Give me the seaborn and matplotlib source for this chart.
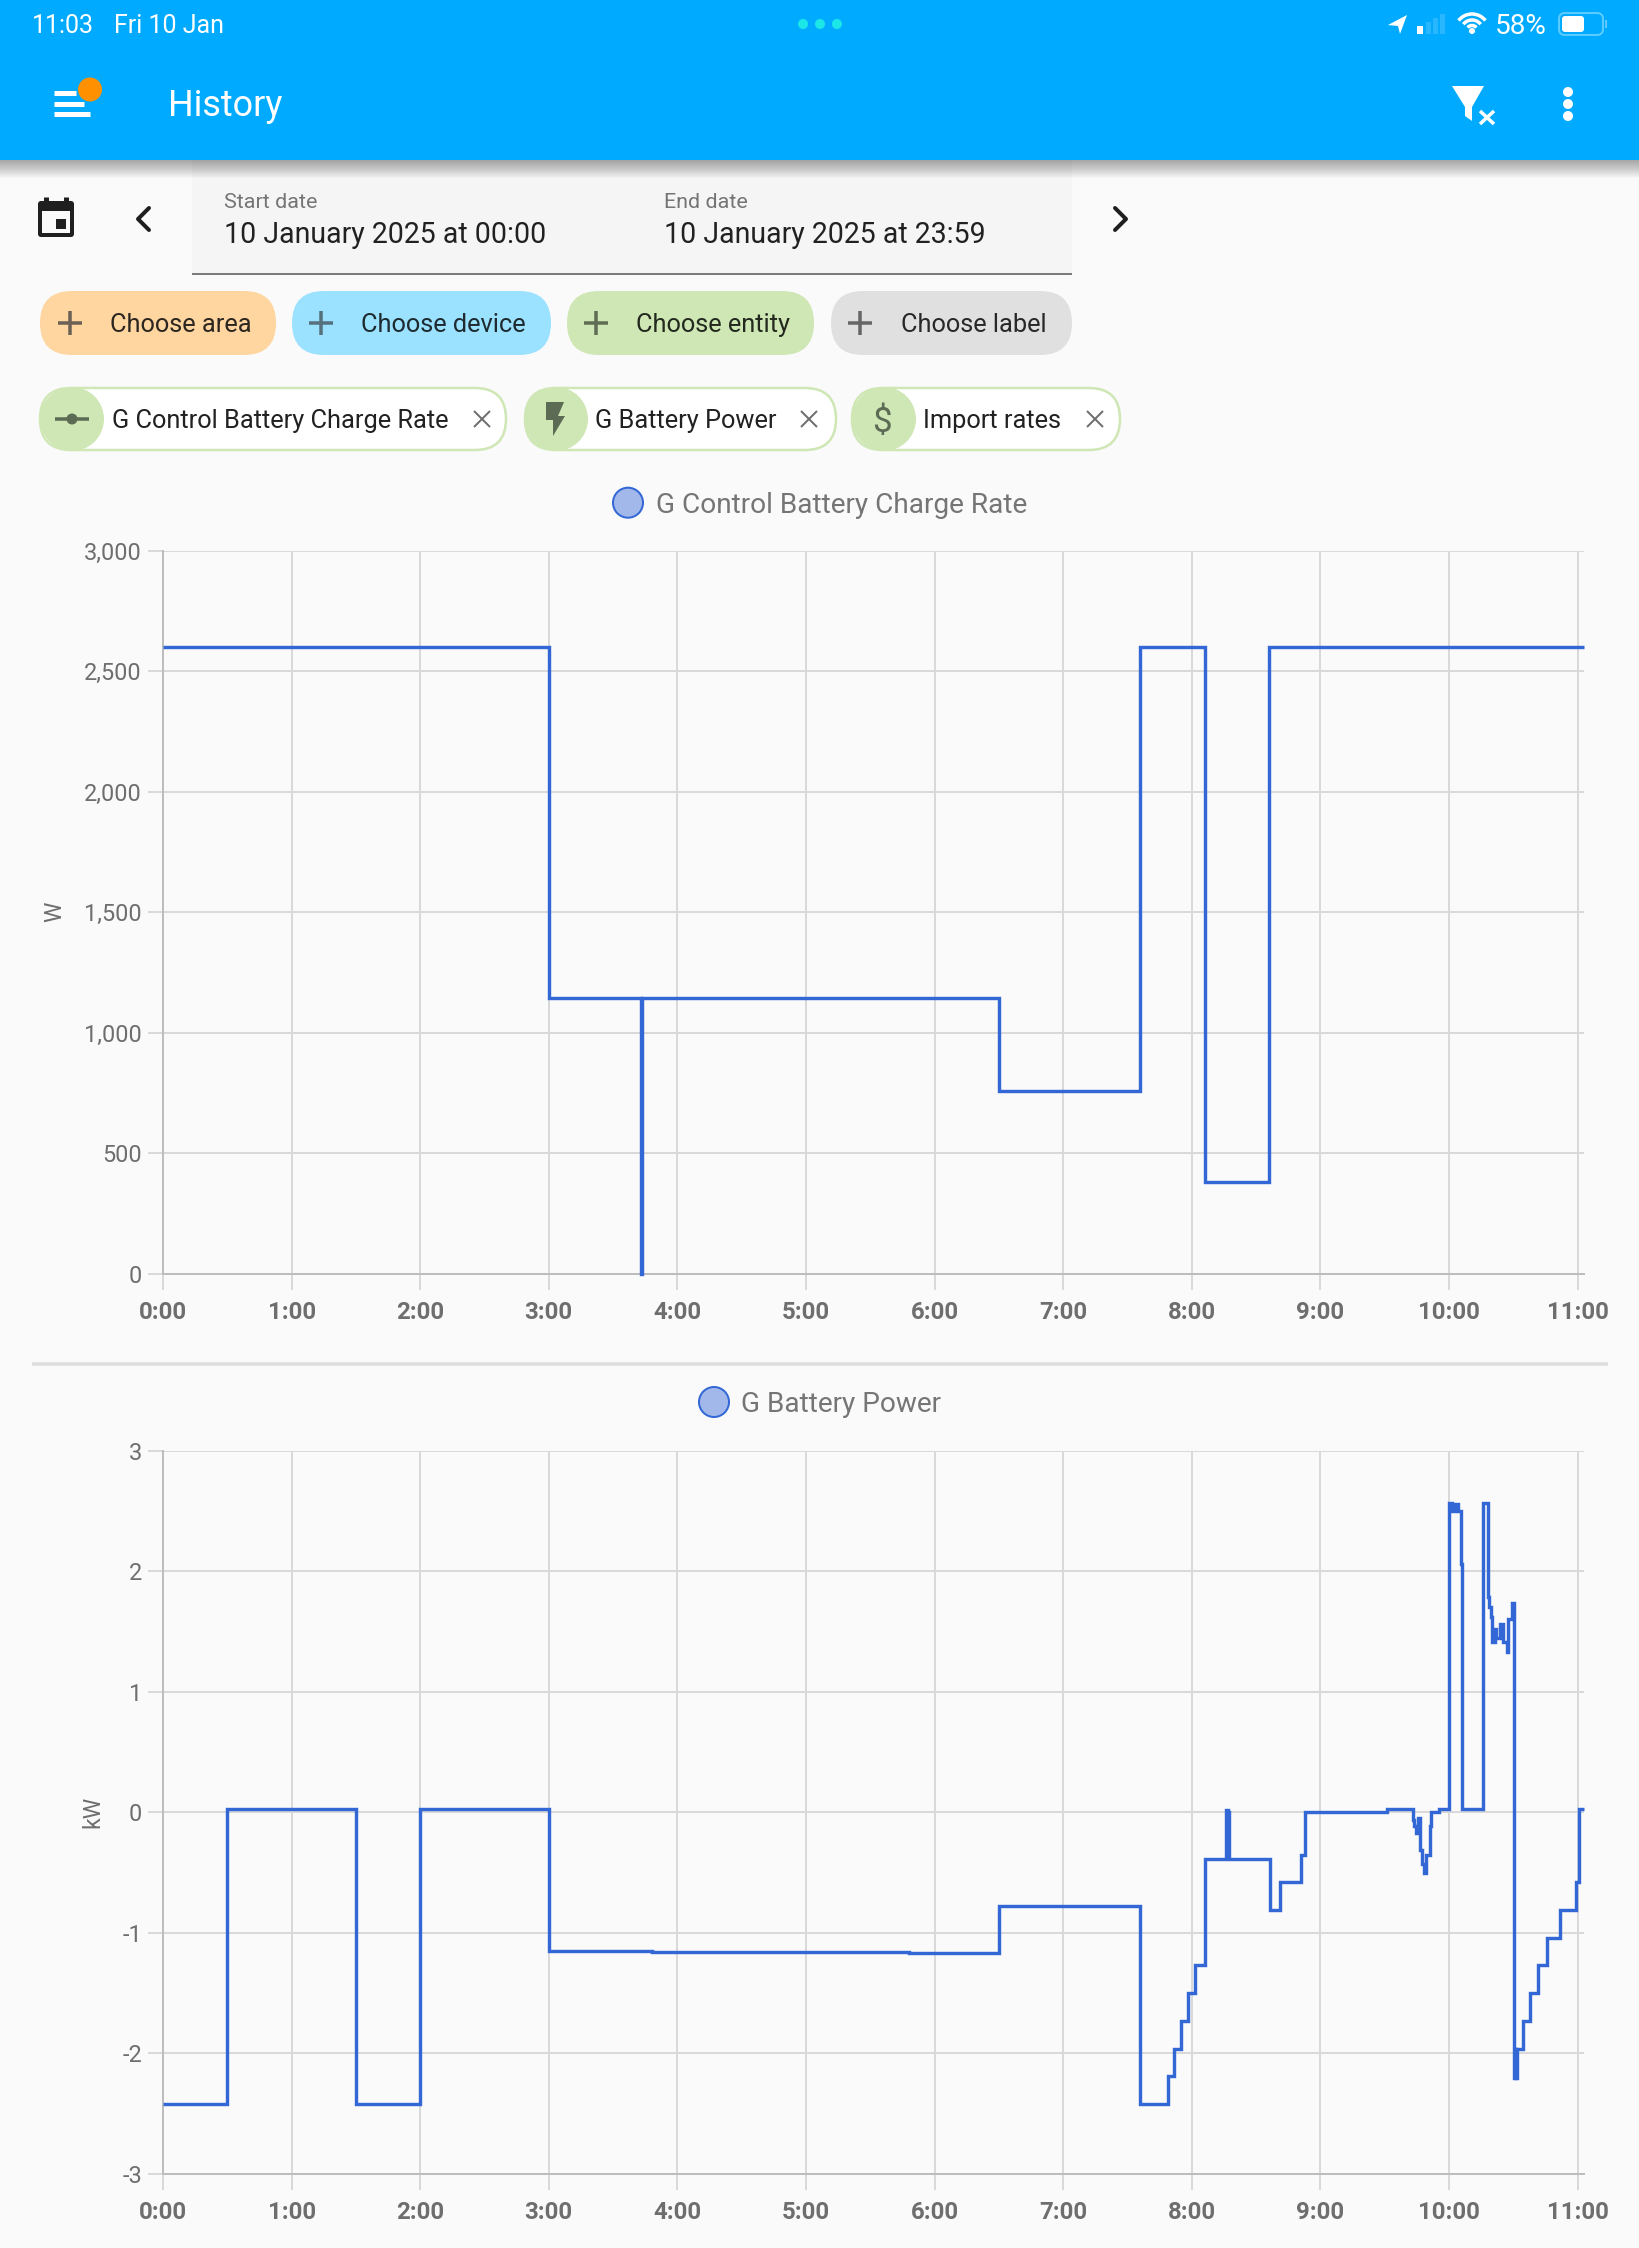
import numpy as np
import matplotlib
matplotlib.use("Agg")
import matplotlib.pyplot as plt
from matplotlib.patches import FancyBboxPatch, Circle, Polygon, Rectangle, Arc
import seaborn as sns

# ---- chart data -------------------------------------------------------
hour_ticks = [0, 1, 2, 3, 4, 5, 6, 7, 8, 9, 10, 11]
hour_labels = ["0:00", "1:00", "2:00", "3:00", "4:00", "5:00", "6:00", "7:00", "8:00", "9:00", "10:00", "11:00"]
x_end = 11.05

rate_hours = [0, 3.0, 3.716, 3.726, 6.5, 7.6, 8.1, 8.6, 11.05]
rate_watts = [2600, 1145, 0, 1145, 760, 2600, 380, 2600, 2600]
rate_ticks = [0, 500, 1000, 1500, 2000, 2500, 3000]
rate_labels = ["0", "500", "1,000", "1,500", "2,000", "2,500", "3,000"]

power_hours = [0, 0.5, 1.5, 2.0, 3.0, 3.8, 4.8, 5.8, 6.5, 7.6,
               7.815, 7.858, 7.914, 7.968, 8.027, 8.10, 8.27, 8.278, 8.281, 8.287,
               8.606, 8.684, 8.847, 8.879, 9.515, 9.718, 9.73, 9.745, 9.756, 9.777,
               9.788, 9.805, 9.818, 9.85, 9.858, 9.925, 10.00, 10.025, 10.045, 10.07,
               10.09, 10.105, 10.267, 10.30, 10.312, 10.326, 10.332, 10.358, 10.365, 10.397,
               10.42, 10.45, 10.46, 10.487, 10.505, 10.515, 10.518, 10.528, 10.576, 10.63,
               10.694, 10.764, 10.863, 10.984, 11.01, 11.05]
power_kw = [-2.42, 0.03, -2.42, 0.03, -1.15, -1.155, -1.16, -1.17, -0.78, -2.42,
            -2.19, -1.96, -1.73, -1.50, -1.27, -0.387, 0.017, -0.387, 0.0, -0.387,
            -0.813, -0.58, -0.35, 0.0, 0.03, -0.06, -0.116, -0.17, -0.05, -0.31,
            -0.43, -0.50, -0.35, -0.116, 0.0, 0.03, 2.57, 2.50, 2.56, 2.50,
            2.06, 0.03, 2.57, 1.79, 1.70, 1.62, 1.41, 1.52, 1.45, 1.56,
            1.41, 1.33, 1.60, 1.74, -2.2, -1.96, -2.2, -1.96, -1.73, -1.50,
            -1.27, -1.04, -0.81, -0.58, 0.03, 0.03]
power_ticks = [-3, -2, -1, 0, 1, 2, 3]
power_labels = ["-3", "-2", "-1", "0", "1", "2", "3"]

chart_titles = ["G Control Battery Charge Rate", "G Battery Power"]
chart_units = ["W", "kW"]

# ---- style ------------------------------------------------------------
W, H = 1640, 2248
BG = "#FAFAFA"
LINE = "#3367D6"
GRID = "#D9D9D9"
AXIS = "#BDBDBD"
TICK_TXT = "#6E6E6E"
PX = 72 / 100  # points per pixel at dpi 100

sns.set_theme(style="whitegrid")
plt.rcParams["font.family"] = ["Roboto", "DejaVu Sans"]
plt.rcParams["axes.unicode_minus"] = False

fig = plt.figure(figsize=(W / 100, H / 100), dpi=100, facecolor=BG)

# chrome layer in pixel coordinates
ui = fig.add_axes([0, 0, 1, 1], zorder=0)
ui.set_xlim(0, W)
ui.set_ylim(H, 0)
ui.axis("off")


def T(x, yc, s, px, color="#212121", ha="left", **kw):
    ui.text(x, yc + 0.36 * px, s, fontsize=px * PX, color=color, ha=ha, va="baseline", **kw)


def pill(x0, x1, y0, y1, fc, ec="none", lw=0, z=2):
    ui.add_patch(FancyBboxPatch((x0, y0), x1 - x0, y1 - y0,
                                boxstyle=f"round,pad=0,rounding_size={(y1 - y0) / 2}",
                                fc=fc, ec=ec, lw=lw * PX, zorder=z))


def bar(x0, y0, x1, y1, c, lw, z=3, cap="butt"):
    ui.plot([x0, x1], [y0, y1], color=c, lw=lw * PX, solid_capstyle=cap, zorder=z)


# header and shadow
for i in range(18):
    ui.add_patch(Rectangle((0, 160), W, 18 - i, fc="#000000", alpha=0.018, ec="none", zorder=1))
ui.add_patch(Rectangle((0, 0), W, 160, fc="#00AAFF", ec="none", zorder=2))
T(32, 24, "11:03", 25, "white", zorder=3)
T(114.5, 24, "Fri 10 Jan", 25, "white", zorder=3)
T(168, 103, "History", 36, "white", zorder=3)
for cx in (803, 820, 837):
    ui.add_patch(Circle((cx, 24), 5, fc="#1CE6E6", ec="none", zorder=3))
# menu icon
for yy, x1 in ((93, 76), (104, 84), (114, 90)):
    bar(54, yy, x1, yy, "white", 5)
ui.add_patch(Circle((90, 89.5), 12, fc="#FF9100", ec="none", zorder=4))
# filter icon
ui.add_patch(Polygon([(1452, 86), (1484, 86), (1472, 107), (1472, 121), (1465, 116), (1465, 107)],
                     fc="white", ec="none", zorder=3))
bar(1480, 111, 1494, 124, "white", 3.5)
bar(1494, 111, 1480, 124, "white", 3.5)
for yy in (92, 104, 116):
    ui.add_patch(Circle((1568, yy), 5, fc="white", ec="none", zorder=3))
# status icons
ui.add_patch(Polygon([(1388, 25), (1407, 15), (1400, 34), (1398, 26)], fc="white", ec="none", zorder=3))
ui.add_patch(Rectangle((1417, 26), 6, 8, fc="white", ec="none", zorder=3))
for xx, top in ((1426, 22), (1433, 18), (1440, 14)):
    ui.add_patch(Rectangle((xx, top), 5, 34 - top, fc="#28B6FF", ec="none", zorder=3))
for d in (34, 22, 11):
    ui.add_patch(Arc((1472, 31), d, d, theta1=218, theta2=322, color="white", lw=3.5 * PX, zorder=3))
ui.add_patch(Circle((1472, 31), 3, fc="white", ec="none", zorder=3))
T(1495, 24, "58%", 28, "white", zorder=3)
ui.add_patch(FancyBboxPatch((1559, 13), 44, 22, boxstyle="round,pad=0,rounding_size=6",
                            fc="none", ec="#5CCBFF", lw=2 * PX, zorder=3))
ui.add_patch(FancyBboxPatch((1562, 16), 22, 16, boxstyle="round,pad=0,rounding_size=3",
                            fc="white", ec="none", zorder=4))
ui.add_patch(Rectangle((1605, 20), 2, 8, fc="#5CCBFF", ec="none", zorder=3))

# date row
ui.add_patch(Rectangle((192, 160), 880, 113, fc="#F5F5F5", ec="none", zorder=0.5))
bar(192, 274, 1072, 274, "#7B7B7B", 2)
T(224, 200, "Start date", 21.5, "#757575")
T(224, 233, "10 January 2025 at 00:00", 28.5, "#212121")
T(664, 200, "End date", 21.5, "#757575")
T(664, 233, "10 January 2025 at 23:59", 28.5, "#212121")
# calendar icon
ui.add_patch(FancyBboxPatch((38, 201), 36, 36, boxstyle="round,pad=0,rounding_size=3",
                            fc="#1F1F1F", ec="none", zorder=3))
ui.add_patch(Rectangle((42, 211), 28, 22, fc=BG, ec="none", zorder=4))
ui.add_patch(Rectangle((56, 219), 10, 10, fc="#1F1F1F", ec="none", zorder=5))
bar(46, 197, 46, 203, "#1F1F1F", 5)
bar(66, 197, 66, 203, "#1F1F1F", 5)
# chevrons
ui.plot([149, 138, 149], [208, 219, 230], color="#1F1F1F", lw=4 * PX, zorder=3)
ui.plot([1115, 1126, 1115], [208, 219, 230], color="#1F1F1F", lw=4 * PX, zorder=3)

# choose pills
choose = [(40, 276, "#FFD5A0", "#6B6255", 70, 110, "Choose area", "#2B2620"),
          (292, 551, "#9AE2FF", "#56707C", 321, 361, "Choose device", "#1E2A2F"),
          (567, 814, "#CFE6B5", "#5F6D55", 596, 636.5, "Choose entity", "#23291E"),
          (831, 1072, "#E0E0E0", "#666666", 860, 901, "Choose label", "#282828")]
for x0, x1, fc, pc, px_, tx, s, tc in choose:
    pill(x0, x1, 291, 355, fc)
    bar(px_ - 12, 323, px_ + 12, 323, pc, 3.5)
    bar(px_, 311, px_, 335, pc, 3.5)
    T(tx, 323, s, 25.4, tc, zorder=3)

# selected chips
chips = [(40, 506, 72, 112.5, 482, "G Control Battery Charge Rate"),
         (525, 836, 556, 595.5, 809, "G Battery Power"),
         (852, 1120, 884, 923.5, 1095, "Import rates")]
for x0, x1, cc, tx, xx, s in chips:
    pill(x0, x1, 388, 450, "#FFFFFF", "#CFE6B5", 2.5)
    ui.add_patch(Circle((cc, 419), 32, fc="#CFE6B5", ec="none", zorder=3))
    T(tx, 419, s, 25.4, "#212121", zorder=3)
    bar(xx - 8, 411, xx + 8, 427, "#6E6E6E", 2)
    bar(xx + 8, 411, xx - 8, 427, "#6E6E6E", 2)
G = "#5C6B54"
bar(55, 419, 89, 419, G, 3.5, z=4)
ui.add_patch(Circle((72, 419), 5.5, fc=G, ec="none", zorder=4))
ui.add_patch(Polygon([(546, 402), (564, 402), (558, 416), (565, 416), (553, 436), (553, 420), (546, 420)],
                     fc=G, ec="none", zorder=4))
T(882, 419, "$", 35, G, ha="center", zorder=4)

# chart legends and divider
for cx, tx, cy, s in ((628, 656, 502.7, chart_titles[0]), (714, 741, 1402, chart_titles[1])):
    ui.add_patch(Circle((cx, cy), 15, fc="#A3B8EA", ec=LINE, lw=2 * PX, zorder=3))
    T(tx, cy, s, 28, "#757575", zorder=3)
bar(32, 1364, 1608, 1364, "#DEDEDE", 3.5)

# y axis unit labels
ui.text(55, 912, chart_units[0], fontsize=23 * PX, color=TICK_TXT, rotation=90, ha="center", va="center")
ui.text(93, 1812, chart_units[1], fontsize=23 * PX, color=TICK_TXT, rotation=90, ha="center", va="center")


def make_axes(top, bottom):
    left, right = 163, 1584
    ax = fig.add_axes([left / W, 1 - bottom / H, (right - left) / W, (bottom - top) / H], zorder=2)
    ax.set_facecolor("none")
    return ax


def style_axes(ax, yticks, ylabels, ylim):
    ax.set_xlim(0, x_end)
    ax.set_ylim(*ylim)
    ax.set_xticks(hour_ticks)
    ax.set_xticklabels(hour_labels)
    ax.set_yticks(yticks)
    ax.set_yticklabels(ylabels)
    ax.set_xlabel("")
    ax.set_ylabel("")
    ax.grid(True, color=GRID, lw=2 * PX, zorder=0)
    ax.set_axisbelow(True)
    for name in ("top", "right"):
        ax.spines[name].set_visible(False)
    for name in ("left", "bottom"):
        ax.spines[name].set_visible(True)
        ax.spines[name].set_color(AXIS)
        ax.spines[name].set_linewidth(2 * PX)
    ax.tick_params(axis="x", length=16 * PX, width=2 * PX, color=GRID, pad=11 * PX, labelsize=24 * PX,
                   labelcolor=TICK_TXT, bottom=True)
    ax.tick_params(axis="y", length=15 * PX, width=2 * PX, color=GRID, pad=6 * PX, labelsize=23.5 * PX,
                   labelcolor=TICK_TXT, left=True)
    for lab in ax.get_xticklabels():
        lab.set_fontweight("bold")


ax1 = make_axes(550.5, 1273.8)
sns.lineplot(x=rate_hours, y=rate_watts, ax=ax1, color=LINE, lw=3.4 * PX, drawstyle="steps-post",
             estimator=None, sort=False, errorbar=None, solid_joinstyle="miter", solid_capstyle="butt",
             clip_on=False, zorder=5)
style_axes(ax1, rate_ticks, rate_labels, (0, 3000))

ax2 = make_axes(1450.7, 2174)
sns.lineplot(x=power_hours, y=power_kw, ax=ax2, color=LINE, lw=3.4 * PX, drawstyle="steps-post",
             estimator=None, sort=False, errorbar=None, solid_joinstyle="miter", solid_capstyle="butt",
             clip_on=False, zorder=5)
style_axes(ax2, power_ticks, power_labels, (-3, 3))

fig.savefig("out.png", dpi=100, facecolor=BG)
